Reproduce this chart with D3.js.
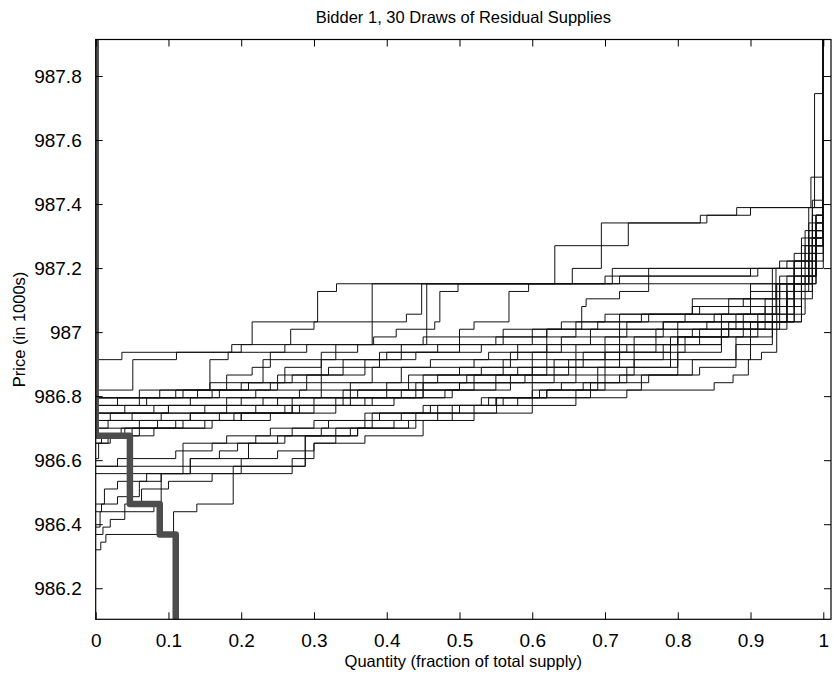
<!DOCTYPE html>
<html>
<head>
<meta charset="utf-8">
<script src="https://cdn.jsdelivr.net/npm/d3@7.9.0/dist/d3.min.js"></script>
<style>
  body { margin: 0; background: #fff; }
  svg text { font-family: "Liberation Sans", Arial, Helvetica, sans-serif; fill: #000; }
</style>
</head>
<body>
<svg id="chart" width="834" height="679"></svg>
<script>
// Bidder 1: 30 simulated residual supply curves plus the bidder's own bid

// Each draw is a list of [quantity where the step starts, price of that step]
const draw01 = [[0, 986.914], [0.036, 986.937], [0.187, 986.961], [0.215, 987.032], [0.305, 987.127], [0.331, 987.151], [0.631, 987.270], [0.732, 987.341], [0.831, 987.365], [0.881, 987.389], [0.988, 987.745]];
const draw02 = [[0, 986.819], [0.051, 986.914], [0.111, 986.937], [0.2, 986.961], [0.268, 987.009], [0.30, 987.032], [0.427, 987.056], [0.448, 987.151], [0.655, 987.199], [0.695, 987.341], [0.84, 987.365], [0.90, 987.389], [0.983, 987.484]];
const draw03 = [[0, 986.795], [0.088, 986.819], [0.157, 986.914], [0.182, 986.937], [0.26, 986.961], [0.382, 986.985], [0.413, 987.009], [0.466, 987.032], [0.473, 987.127], [0.498, 987.151], [0.72, 987.175], [0.90, 987.199], [0.96, 987.246], [0.99, 987.365]];
const draw04 = [[0, 986.795], [0.11, 986.819], [0.18, 986.866], [0.215, 986.890], [0.24, 986.937], [0.29, 986.961], [0.38, 987.151], [0.76, 987.199], [0.94, 987.222], [0.98, 987.341]];
const draw05 = [[0, 986.795], [0.06, 986.819], [0.157, 986.842], [0.23, 986.914], [0.33, 986.961], [0.45, 986.985], [0.50, 987.009], [0.52, 987.032], [0.568, 987.127], [0.595, 987.151], [0.71, 987.199], [0.95, 987.222], [0.985, 987.389]];
const draw06 = [[0, 986.771], [0.03, 986.795], [0.12, 986.819], [0.2, 986.842], [0.26, 986.890], [0.31, 986.937], [0.36, 986.961], [0.455, 987.151], [0.7, 987.175], [0.91, 987.199], [0.97, 987.294]];
const draw07 = [[0, 986.771], [0.07, 986.795], [0.16, 986.819], [0.25, 986.866], [0.34, 986.914], [0.42, 986.961], [0.5, 986.985], [0.6, 987.009], [0.668, 987.080], [0.674, 987.104], [0.72, 987.127], [0.76, 987.151], [0.93, 987.199], [0.975, 987.317]];
const draw08 = [[0, 986.747], [0.04, 986.771], [0.13, 986.795], [0.22, 986.819], [0.29, 986.866], [0.37, 986.914], [0.44, 986.937], [0.53, 986.961], [0.6, 986.985], [0.66, 987.032], [0.76, 987.056], [0.87, 987.104], [0.94, 987.151], [0.98, 987.270]];
const draw09 = [[0, 986.747], [0.08, 986.771], [0.18, 986.795], [0.31, 986.842], [0.38, 986.890], [0.46, 986.914], [0.54, 986.937], [0.62, 987.009], [0.72, 987.056], [0.82, 987.080], [0.9, 987.127], [0.96, 987.222], [0.985, 987.412]];
const draw10 = [[0, 986.724], [0.05, 986.747], [0.1, 986.771], [0.2, 986.795], [0.28, 986.819], [0.35, 986.842], [0.42, 986.890], [0.52, 986.914], [0.58, 986.961], [0.68, 987.009], [0.78, 987.032], [0.86, 987.056], [0.935, 987.151], [0.975, 987.270]];
const draw11 = [[0, 986.724], [0.02, 986.747], [0.15, 986.771], [0.25, 986.795], [0.36, 986.819], [0.43, 986.866], [0.5, 986.890], [0.57, 986.937], [0.64, 986.985], [0.73, 987.032], [0.81, 987.056], [0.9, 987.080], [0.95, 987.175], [0.99, 987.341]];
const draw12 = [[0, 986.700], [0.06, 986.724], [0.13, 986.747], [0.22, 986.771], [0.3, 986.795], [0.4, 986.842], [0.47, 986.866], [0.56, 986.914], [0.62, 986.961], [0.7, 986.985], [0.78, 987.032], [0.85, 987.056], [0.92, 987.104], [0.96, 987.199], [0.985, 987.294]];
const draw13 = [[0, 986.700], [0.017, 986.724], [0.09, 986.747], [0.18, 986.771], [0.27, 986.795], [0.34, 986.819], [0.45, 986.866], [0.53, 986.890], [0.6, 986.937], [0.66, 986.961], [0.72, 987.009], [0.8, 987.032], [0.88, 987.056], [0.93, 987.151], [0.98, 987.246]];
const draw14 = [[0, 986.676], [0.035, 986.700], [0.11, 986.724], [0.2, 986.747], [0.3, 986.771], [0.38, 986.795], [0.45, 986.819], [0.52, 986.842], [0.6, 986.890], [0.67, 986.937], [0.74, 986.985], [0.82, 987.009], [0.88, 987.032], [0.95, 987.127], [0.98, 987.317]];
const draw15 = [[0, 986.653], [0.008, 986.676], [0.05, 986.700], [0.16, 986.724], [0.24, 986.747], [0.33, 986.771], [0.41, 986.795], [0.49, 986.819], [0.55, 986.866], [0.63, 986.914], [0.7, 986.961], [0.77, 987.009], [0.84, 987.032], [0.91, 987.056], [0.96, 987.175], [0.99, 987.270]];
const draw16 = [[0, 986.771], [0.06, 986.795], [0.14, 986.819], [0.21, 986.842], [0.27, 986.866], [0.32, 986.890], [0.39, 986.937], [0.47, 986.961], [0.55, 986.985], [0.62, 987.009], [0.69, 987.032], [0.75, 987.056], [0.83, 987.080], [0.89, 987.104], [0.935, 987.199], [0.98, 987.389]];
const draw17 = [[0, 986.795], [0.17, 986.819], [0.24, 986.842], [0.31, 986.914], [0.4, 986.937], [0.5, 986.961], [0.56, 987.009], [0.64, 987.032], [0.7, 987.056], [0.82, 987.104], [0.9, 987.151], [0.97, 987.270]];
const draw18 = [[0, 986.747], [0.1, 986.771], [0.23, 986.795], [0.35, 986.819], [0.44, 986.842], [0.51, 986.866], [0.58, 986.890], [0.66, 986.937], [0.73, 986.961], [0.8, 986.985], [0.86, 987.009], [0.91, 987.032], [0.95, 987.104], [0.985, 987.222]];
const draw19 = [[0, 986.724], [0.13, 986.747], [0.27, 986.771], [0.37, 986.795], [0.48, 986.819], [0.57, 986.842], [0.63, 986.866], [0.7, 986.914], [0.78, 986.961], [0.86, 987.009], [0.92, 987.032], [0.96, 987.151], [0.99, 987.317]];
const draw20 = [[0, 986.676], [0.04, 986.700], [0.085, 986.724], [0.17, 986.747], [0.26, 986.771], [0.34, 986.795], [0.42, 986.819], [0.5, 986.842], [0.59, 986.866], [0.65, 986.890], [0.72, 986.937], [0.79, 986.985], [0.87, 987.032], [0.93, 987.080], [0.97, 987.199]];
const draw21 = [[0, 986.320], [0.007, 986.344], [0.014, 986.368], [0.107, 986.439], [0.139, 986.463], [0.189, 986.581], [0.288, 986.676], [0.35, 986.700], [0.41, 986.724], [0.47, 986.771], [0.56, 986.795], [0.62, 986.819], [0.70, 986.866], [0.74, 986.914], [0.80, 986.985], [0.87, 987.009], [0.94, 987.032], [0.97, 987.151], [0.99, 987.270]];
const draw22 = [[0, 986.391], [0.006, 986.439], [0.08, 986.463], [0.09, 986.558], [0.13, 986.605], [0.21, 986.653], [0.25, 986.676], [0.31, 986.700], [0.38, 986.747], [0.52, 986.771], [0.6, 986.819], [0.69, 986.890], [0.79, 986.961], [0.86, 987.009], [0.93, 987.056], [0.975, 987.175], [0.99, 987.317]];
const draw23 = [[0, 986.439], [0.008, 986.463], [0.03, 986.486], [0.06, 986.534], [0.09, 986.558], [0.13, 986.605], [0.17, 986.629], [0.195, 986.653], [0.26, 986.676], [0.36, 986.700], [0.44, 986.747], [0.551, 986.795], [0.73, 986.819], [0.85, 986.842], [0.876, 986.866], [0.897, 986.914], [0.915, 986.937], [0.936, 987.151], [0.985, 987.365]];
const draw24 = [[0, 986.558], [0.27, 986.605], [0.30, 986.653], [0.33, 986.700], [0.37, 986.724], [0.42, 986.747], [0.5, 986.771], [0.55, 986.795], [0.62, 986.819], [0.64, 986.842], [0.72, 986.866], [0.8, 986.914], [0.9, 987.009], [0.95, 987.127], [0.985, 987.294]];
const draw25 = [[0, 986.581], [0.288, 986.676], [0.36, 986.700], [0.43, 986.724], [0.49, 986.771], [0.58, 986.795], [0.68, 986.842], [0.76, 986.866], [0.83, 986.890], [0.88, 986.961], [0.93, 987.032], [0.96, 987.199], [0.99, 987.341]];
const draw26 = [[0, 986.605], [0.004, 986.653], [0.017, 986.676], [0.08, 986.700], [0.15, 986.724], [0.2, 986.747], [0.27, 986.771], [0.33, 986.795], [0.44, 986.819], [0.5, 986.842], [0.57, 986.866], [0.62, 986.914], [0.7, 986.937], [0.77, 986.961], [0.83, 987.009], [0.9, 987.032], [0.94, 987.175], [0.98, 987.270]];
const draw27 = [[0, 986.368], [0.01, 986.391], [0.02, 986.415], [0.04, 986.463], [0.063, 986.510], [0.1, 986.534], [0.16, 986.558], [0.2, 986.605], [0.25, 986.629], [0.3, 986.653], [0.37, 986.676], [0.45, 986.724], [0.52, 986.747], [0.6, 986.771], [0.66, 986.819], [0.75, 986.866], [0.82, 986.914], [0.88, 986.985], [0.93, 987.032], [0.97, 987.175], [0.99, 987.365]];
const draw28 = [[0, 986.463], [0.012, 986.510], [0.03, 986.534], [0.07, 986.558], [0.12, 986.653], [0.18, 986.676], [0.24, 986.700], [0.3, 986.724], [0.37, 986.747], [0.45, 986.771], [0.53, 986.795], [0.6, 986.842], [0.66, 986.890], [0.74, 986.937], [0.81, 986.985], [0.89, 987.056], [0.94, 987.151], [0.98, 987.294]];
const draw29 = [[0, 986.653], [0.02, 986.676], [0.06, 986.700], [0.12, 986.724], [0.19, 986.747], [0.28, 986.771], [0.35, 986.795], [0.45, 986.842], [0.52, 986.866], [0.6, 986.890], [0.65, 986.914], [0.72, 986.961], [0.8, 987.009], [0.86, 987.032], [0.92, 987.080], [0.96, 987.222], [0.99, 987.365]];
const draw30 = [[0, 986.581], [0.03, 986.605], [0.11, 986.629], [0.16, 986.653], [0.22, 986.676], [0.27, 986.700], [0.32, 986.724], [0.39, 986.747], [0.46, 986.771], [0.54, 986.795], [0.61, 986.819], [0.67, 986.842], [0.73, 986.890], [0.8, 986.937], [0.86, 986.985], [0.91, 987.032], [0.95, 987.151], [0.985, 987.270]];

const draws = [draw01, draw02, draw03, draw04, draw05, draw06, draw07, draw08, draw09, draw10,
  draw11, draw12, draw13, draw14, draw15, draw16, draw17, draw18, draw19, draw20,
  draw21, draw22, draw23, draw24, draw25, draw26, draw27, draw28, draw29, draw30];

// Bidder 1's own bid: [quantity where the step ends, price]
const bidSteps = [[0.047, 986.676], [0.088, 986.463], [0.110, 986.368]];

// Supply is a fraction of the total, so every residual supply turns vertical at 1
const totalSupply = 1;

const xTicks = [0, 0.1, 0.2, 0.3, 0.4, 0.5, 0.6, 0.7, 0.8, 0.9, 1];
const yTicks = [986.2, 986.4, 986.6, 986.8, 987, 987.2, 987.4, 987.6, 987.8];

const titleText = 'Bidder 1, 30 Draws of Residual Supplies';
const xLabelText = 'Quantity (fraction of total supply)';
const yLabelText = 'Price (in 1000s)';

// Layout
const plot = { left: 95.7, right: 831, top: 39.5, bottom: 619.3 };
const tickLen = 7;

let x = d3.scaleLinear().domain([0, 1.0106]).range([plot.left, plot.right]);
let y = d3.scaleLinear().domain([986.103, 987.914]).range([plot.bottom, plot.top]);

let svg = d3.select('#chart');

svg.append('defs')
  .append('clipPath')
  .attr('id', 'plot-clip')
  .append('rect')
  .attr('x', plot.left)
  .attr('y', plot.top)
  .attr('width', plot.right - plot.left)
  .attr('height', plot.bottom - plot.top);

let lines = svg.append('g').attr('clip-path', 'url(#plot-clip)');

// Residual supply step curves
let above = y.domain()[1] + 1;
let below = y.domain()[0] - 1;

let supplyLine = d3.line()
  .x((d) => x(d[0]))
  .y((d) => y(d[1]))
  .curve(d3.curveStepAfter);

draws.forEach((draw) => {
  lines.append('path')
    .attr('d', supplyLine(draw.concat([[totalSupply, above]])))
    .attr('fill', 'none')
    .attr('stroke', '#111')
    .attr('stroke-width', 1);
});

// Bid curve: comes down from the top at zero quantity, steps down, then drops
let bidLine = d3.line()
  .x((d) => x(d[0]))
  .y((d) => y(d[1]))
  .curve(d3.curveStepBefore);

let lastBid = bidSteps[bidSteps.length - 1];
let bidPoints = [[0, above]].concat(bidSteps, [[lastBid[0], below]]);

lines.append('path')
  .attr('d', bidLine(bidPoints))
  .attr('fill', 'none')
  .attr('stroke', '#4d4d4d')
  .attr('stroke-width', 6.5)
  .attr('stroke-linejoin', 'round');

// Axes: MATLAB style box with inward ticks on all four sides
let fmt = (v) => String(+v.toFixed(1));

let axisBottom = d3.axisBottom(x).tickValues(xTicks).tickSizeInner(-tickLen).tickSizeOuter(0).tickPadding(14).tickFormat(fmt);
let axisTop = d3.axisTop(x).tickValues(xTicks).tickSizeInner(-tickLen).tickSizeOuter(0).tickFormat('');
let axisLeft = d3.axisLeft(y).tickValues(yTicks).tickSizeInner(-tickLen).tickSizeOuter(0).tickPadding(14).tickFormat(fmt);
let axisRight = d3.axisRight(y).tickValues(yTicks).tickSizeInner(-tickLen).tickSizeOuter(0).tickFormat('');

function styleAxis(g) {
  g.select('.domain').remove();
  g.selectAll('.tick line').attr('stroke', '#000').attr('stroke-width', 1);
  g.selectAll('.tick text')
    .attr('font-size', 19)
    .attr('font-family', '"Liberation Sans", Arial, Helvetica, sans-serif')
    .attr('fill', '#000');
}

svg.append('g').attr('transform', `translate(0,${plot.bottom})`).call(axisBottom).call(styleAxis);
svg.append('g').attr('transform', `translate(0,${plot.top})`).call(axisTop).call(styleAxis);
svg.append('g').attr('transform', `translate(${plot.left},0)`).call(axisLeft).call(styleAxis);
svg.append('g').attr('transform', `translate(${plot.right},0)`).call(axisRight).call(styleAxis);

svg.append('rect')
  .attr('x', plot.left)
  .attr('y', plot.top)
  .attr('width', plot.right - plot.left)
  .attr('height', plot.bottom - plot.top)
  .attr('fill', 'none')
  .attr('stroke', '#000')
  .attr('stroke-width', 1.2);

// Title and axis labels
let midX = (plot.left + plot.right) / 2;
let midY = (plot.top + plot.bottom) / 2;

svg.append('text')
  .attr('x', midX)
  .attr('y', 23)
  .attr('text-anchor', 'middle')
  .attr('font-size', 16.5)
  .text(titleText);

svg.append('text')
  .attr('x', midX)
  .attr('y', 667)
  .attr('text-anchor', 'middle')
  .attr('font-size', 16.5)
  .text(xLabelText);

svg.append('text')
  .attr('transform', `translate(25,${midY}) rotate(-90)`)
  .attr('text-anchor', 'middle')
  .attr('font-size', 16.5)
  .text(yLabelText);
</script>
</body>
</html>
